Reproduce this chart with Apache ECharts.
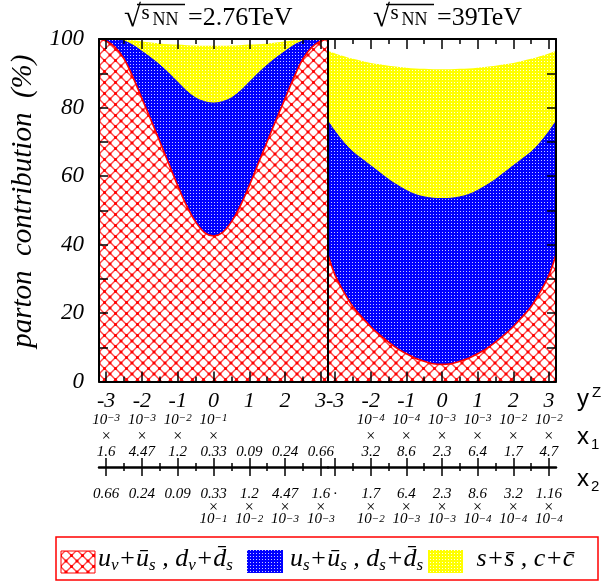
<!DOCTYPE html>
<html><head><meta charset="utf-8">
<script src="https://cdn.jsdelivr.net/npm/echarts@6/dist/echarts.min.js"></script>
<style>html,body{margin:0;padding:0;background:#fff}#c{width:612px;height:583px}</style>
</head><body><div id="c"></div>
<script>
// ---------------- data ----------------
const rapidity = [-3.2,-3,-2.75,-2.5,-2.25,-2,-1.75,-1.5,-1.25,-1,-0.75,-0.5,-0.25,0,0.25,0.5,0.75,1,1.25,1.5,1.75,2,2.25,2.5,2.75,3,3.2];
// sqrt(s_NN)=2.76 TeV : cumulative upper boundaries (%)
const lhcValence = [100,99.4,97.6,94.2,88.8,82.6,76.4,70,63.6,57.2,51.3,46.6,43.5,42.5,43.5,46.6,51.3,57.2,63.6,70,76.4,82.6,88.8,94.2,97.6,99.4,100];
const lhcSea     = [100,100,99.9,99.4,98.2,96.4,94.5,92.4,90,87.4,84.8,82.8,81.7,81.3,81.7,82.8,84.8,87.4,90,92.4,94.5,96.4,98.2,99.4,99.9,100,100];
const lhcStrange = [100,100,100,99.8,99.6,99.3,99,98.7,98.5,98.4,98.2,98.1,98,98,98,98.1,98.2,98.4,98.5,98.7,99,99.3,99.6,99.8,100,100,100];
// sqrt(s_NN)=39 TeV
const rhicValence = [37,31,26,21.8,18.8,16,13.6,11.5,9.6,8.1,6.8,5.9,5.2,5.0,5.2,5.9,6.8,8.1,9.6,11.5,13.6,16,18.8,21.8,26,31,37];
const rhicSea     = [76,73,69.7,67,65,63,61,59,57.3,55.8,54.6,53.9,53.5,53.4,53.5,53.9,54.6,55.8,57.3,59,61,63,65,67,69.7,73,76];
const rhicStrange = [96.6,95.8,95,94.2,93.6,93,92.6,92.2,91.9,91.6,91.4,91.3,91.2,91.2,91.2,91.3,91.4,91.6,91.9,92.2,92.6,93,93.6,94.2,95,95.8,96.6];

const rapTicks  = [-3,-2,-1,0,1,2,3];
const rapHalf   = [-2.5,-1.5,-0.5,0.5,1.5,2.5];
const rapLabels = ['-3','-2','-1','0','1','2','3'];
const yTickValues = [0,20,40,60,80,100];

const lhcX1Mant = ['1.6','4.47','1.2','0.33','0.09','0.24','0.66'];
const lhcX1Exp  = ['−3','−3','−2','−1','','',''];
const lhcX2Mant = ['0.66','0.24','0.09','0.33','1.2','4.47','1.6'];
const lhcX2Exp  = ['','','','−1','−2','−3','−3'];
const rhicX1Mant = ['','3.2','8.6','2.3','6.4','1.7','4.7'];
const rhicX1Exp  = ['','−4','−4','−3','−3','−2','−2'];
const rhicX2Mant = ['·','1.7','6.4','2.3','8.6','3.2','1.16'];
const rhicX2Exp  = ['','−2','−3','−3','−4','−4','−4'];

const seriesNames = ['valence','sea','strange'];

// ---------------- styles ----------------
const serif = "'Liberation Serif','Times New Roman',serif";
const sans = "'Liberation Sans',Arial,sans-serif";
const black = '#000';

function pattern(size, draw){
  const c = document.createElement('canvas'); c.width = size; c.height = size;
  const g = c.getContext('2d'); draw(g, size);
  return {image: c, repeat: 'repeat'};
}
const redHatch = pattern(11, (g, s) => {
  g.fillStyle = '#fff'; g.fillRect(0,0,s,s);
  g.strokeStyle = '#ff4545'; g.lineWidth = 1.4;
  g.beginPath(); g.moveTo(-1,-1); g.lineTo(s+1,s+1); g.moveTo(s+1,-1); g.lineTo(-1,s+1); g.stroke();
  g.fillStyle = '#ff0000';
  [[s/2,s/2],[0,0],[s,0],[0,s],[s,s]].forEach(([x,y]) => g.fillRect(x-1.4,y-1.4,2.8,2.8));
});
const blueDots = pattern(3, (g, s) => { g.fillStyle = '#0000ff'; g.fillRect(0,0,s,s); g.fillStyle = '#c8c8ff'; g.fillRect(1,1,1,1); });
const yellowDots = pattern(3, (g, s) => { g.fillStyle = '#ffff00'; g.fillRect(0,0,s,s); g.fillStyle = '#ffffe0'; g.fillRect(1,1,1,1); });

// ---------------- label builders ----------------
function x1Label(m, e){
  if (!m) return '';
  return e ? `{p|10}{s|${e}}\n{x|×}\n{m|${m}}` : `{e| }\n{e| }\n{m|${m}}`;
}
function x2Label(m, e){
  return e ? `{m|${m}}\n{x|×}\n{p|10}{s|${e}}` : `{m|${m}}`;
}
const x1Rich = {
  p:{fontFamily:serif,fontStyle:'italic',fontSize:15,lineHeight:16,color:black},
  s:{fontFamily:serif,fontStyle:'italic',fontSize:11,lineHeight:8,verticalAlign:'top',color:black},
  x:{fontFamily:serif,fontSize:16,lineHeight:16,color:black},
  m:{fontFamily:serif,fontStyle:'italic',fontSize:15,lineHeight:16,color:black},
  e:{fontFamily:serif,fontSize:15,lineHeight:16,color:black}
};
const x2Rich = {
  m:{fontFamily:serif,fontStyle:'italic',fontSize:15,lineHeight:15,color:black},
  x:{fontFamily:serif,fontSize:16,lineHeight:12,color:black},
  p:{fontFamily:serif,fontStyle:'italic',fontSize:15,lineHeight:11,color:black},
  s:{fontFamily:serif,fontStyle:'italic',fontSize:11,lineHeight:5,verticalAlign:'top',color:black}
};

// ---------------- axes ----------------
function baseX(gi, pos, offset){
  return {gridIndex:gi, type:'value', min:-3.2, max:3.2, position:pos, offset:offset, z:10,
    splitLine:{show:false}, axisLabel:{show:false}, axisTick:{show:false},
    axisLine:{show:false, onZero:false}};
}
function tickX(gi, pos, offset, vals, len, inside, lineW){
  const a = baseX(gi, pos, offset);
  a.axisTick = {show:true, inside:inside, length:len, customValues:vals, lineStyle:{color:black, width:1.5}};
  if (lineW) a.axisLine = {show:true, onZero:false, lineStyle:{color:black, width:lineW}};
  return a;
}
function xAxesFor(gi, x1M, x1E, x2M, x2E){
  const main = tickX(gi, 'bottom', 0, rapTicks, 10, true, 2);
  main.axisLabel = {show:true, customValues:rapTicks, formatter:v => rapLabels[rapTicks.indexOf(v)],
    fontFamily:serif, fontStyle:'italic', fontSize:22, lineHeight:22, color:black, margin:9};
  const mid = tickX(gi, 'bottom', 85.5, rapTicks, 9, false, 2.5);
  mid.axisLabel = {show:true, customValues:rapTicks, margin:19.5,
    formatter:v => { const i = rapTicks.indexOf(v); return x2Label(x2M[i], x2E[i]); }, rich:x2Rich, color:black};
  const x1 = baseX(gi, 'bottom', 20);
  x1.axisLabel = {show:true, customValues:rapTicks, margin:11,
    formatter:v => { const i = rapTicks.indexOf(v); return x1Label(x1M[i], x1E[i]); }, rich:x1Rich, color:black};
  return [
    main,
    tickX(gi, 'bottom', 0, rapHalf, 5, true, 0),
    tickX(gi, 'top', 0, rapTicks, 10, true, 2),
    tickX(gi, 'top', 0, rapHalf, 5, true, 0),
    mid,
    tickX(gi, 'bottom', 85.5, rapTicks, 9, true, 0),
    tickX(gi, 'bottom', 85.5, rapHalf, 4, false, 0),
    tickX(gi, 'bottom', 85.5, rapHalf, 4, true, 0),
    x1
  ];
}
function baseY(gi, pos, ticks, line){
  return {gridIndex:gi, type:'value', min:0, max:100, interval:10, position:pos, z:10,
    splitLine:{show:false}, axisLabel:{show:false},
    axisTick:{show:ticks, inside:true, length:9, lineStyle:{color:black, width:1.5}},
    axisLine:{show:line, onZero:false, lineStyle:{color:black, width:2}}};
}
const yLeft = baseY(0, 'left', true, true);
yLeft.axisLabel = {show:true, customValues:yTickValues, fontFamily:serif, fontStyle:'italic', fontSize:23, color:black, margin:15};
yLeft.name = 'parton  contribution  (%)';
yLeft.nameLocation = 'middle';
yLeft.nameRotate = 90;
yLeft.nameGap = 61;
yLeft.nameTextStyle = {fontFamily:serif, fontStyle:'italic', fontSize:29, color:black, padding:[0,0,0,18]};

const xAxes = xAxesFor(0, lhcX1Mant, lhcX1Exp, lhcX2Mant, lhcX2Exp)
  .concat(xAxesFor(1, rhicX1Mant, rhicX1Exp, rhicX2Mant, rhicX2Exp));
const yAxes = [yLeft, baseY(0,'right',false,true), baseY(1,'left',false,true), baseY(1,'right',true,true)];

// ---------------- series ----------------
function pairs(vals){ return rapidity.map((x,i) => [x, vals[i]]); }
function areaSeries(name, vals, xi, yi, fill, z, lineColor, lineW){
  return {name, type:'line', xAxisIndex:xi, yAxisIndex:yi, data:pairs(vals), smooth:0.35,
    showSymbol:false, symbol:'none', z:z, silent:true, animation:false,
    lineStyle:{color:lineColor, width:lineW, opacity: lineW ? 1 : 0},
    areaStyle:{color:fill, opacity:1, origin:'start'}};
}
const series = [
  areaSeries(seriesNames[2], lhcStrange, 0, 0, yellowDots, 1, '#ffff00', 0),
  areaSeries(seriesNames[1], lhcSea, 0, 0, blueDots, 2, '#0000ff', 1),
  areaSeries(seriesNames[0], lhcValence, 0, 0, redHatch, 3, '#ff0000', 1.6),
  areaSeries(seriesNames[2], rhicStrange, 9, 2, yellowDots, 1, '#ffff00', 0),
  areaSeries(seriesNames[1], rhicSea, 9, 2, blueDots, 2, '#0000ff', 1),
  areaSeries(seriesNames[0], rhicValence, 9, 2, redHatch, 3, '#ff0000', 1.6)
];

// ---------------- graphic texts (titles, axis symbols, legend) ----------------
function txt(x, baseline, size, text, family, italic){
  const fam = family || serif;
  const asc = fam === sans ? 0.3465 : 0.3375;
  return {type:'text', x:x, y:baseline - asc*size, z:100, silent:true,
    style:{text:text, fill:black, font:(italic?'italic ':'') + size + 'px ' + fam,
      verticalAlign:'middle', textVerticalAlign:'middle', align:'left', textAlign:'left'}};
}
const legendRich = {
  i:{fontFamily:serif, fontStyle:'italic', fontSize:26, lineHeight:30, color:black},
  b:{fontFamily:serif, fontStyle:'italic', fontSize:17, lineHeight:15, verticalAlign:'bottom', color:black}
};
const legendLabels = [
  '{i|u}{b|v}{i|+ū}{b|s}{i| , d}{b|v}{i|+d\u0304}{b|s}',
  '{i|u}{b|s}{i|+ū}{b|s}{i| , d}{b|s}{i|+d\u0304}{b|s}',
  '{i| s+s\u0304 , c+c\u0304}'
];
function legText(x, label){
  return {type:'text', x:x, y:559, z:100, silent:true,
    style:{text:label, rich:legendRich, verticalAlign:'middle', textVerticalAlign:'middle', align:'left', textAlign:'left'}};
}
const graphic = [
  // titles
  txt(124, 28, 31, '√'), txt(141.5, 20.5, 21, 's'), txt(152.5, 26.7, 18, 'NN'), txt(188, 27, 26, '=2.76TeV'),
  {type:'line', z:100, shape:{x1:137, y1:4.5, x2:185, y2:4.5}, style:{stroke:black, lineWidth:1.3}},
  txt(373, 28, 31, '√'), txt(390.5, 20.5, 21, 's'), txt(401.5, 26.7, 18, 'NN'), txt(437, 27, 26, '=39TeV'),
  {type:'line', z:100, shape:{x1:386, y1:4.5, x2:434, y2:4.5}, style:{stroke:black, lineWidth:1.3}},
  // axis symbols
  txt(577, 408, 24, 'y', sans), txt(592, 398, 15, 'Z', sans),
  txt(577, 446, 24, 'x', sans), txt(591, 450, 15, '1', sans),
  txt(577, 488, 24, 'x', sans), txt(591, 492, 15, '2', sans),
  // legend
  {type:'rect', z:100, shape:{x:56, y:537, width:542, height:43}, style:{fill:'none', stroke:'#ff0000', lineWidth:1.5}},
  {type:'rect', z:100, shape:{x:61, y:551, width:34, height:22}, style:{fill:redHatch, stroke:'#ff0000', lineWidth:1}},
  legText(98, legendLabels[0]),
  {type:'rect', z:100, shape:{x:247, y:550, width:36, height:23}, style:{fill:blueDots}},
  legText(290, legendLabels[1]),
  {type:'rect', z:100, shape:{x:428, y:550, width:35, height:23}, style:{fill:yellowDots}},
  legText(470, legendLabels[2])
];

const chart = echarts.init(document.getElementById('c'), null, {renderer:'canvas'});
chart.setOption({
  animation:false,
  backgroundColor:'#fff',
  grid:[
    {left:99, top:39, width:229, height:342.5, outerBoundsMode:'none', containLabel:false},
    {left:328, top:39, width:228, height:342.5, outerBoundsMode:'none', containLabel:false}
  ],
  xAxis:xAxes,
  yAxis:yAxes,
  series:series,
  graphic:graphic
});
</script>
</body></html>
